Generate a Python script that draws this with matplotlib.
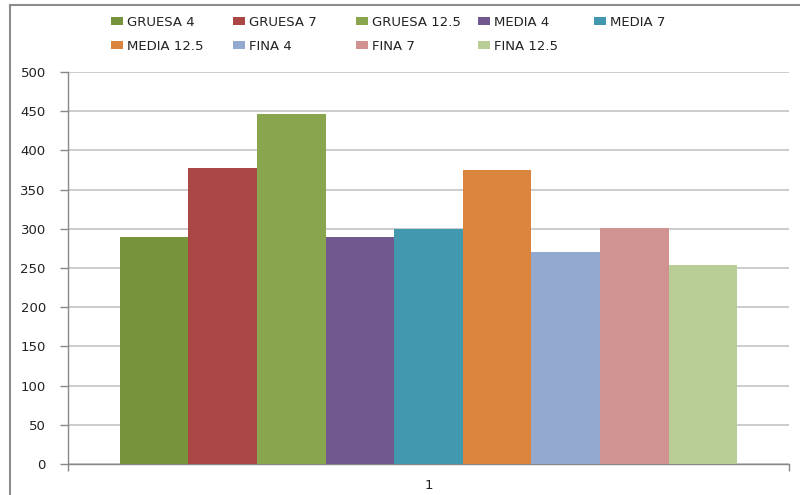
import matplotlib
matplotlib.use("Agg")
import matplotlib.pyplot as plt
from matplotlib.patches import Patch
from matplotlib.lines import Line2D

# Series (one category, "1")
series = ["GRUESA 4", "GRUESA 7", "GRUESA 12.5", "MEDIA 4", "MEDIA 7",
          "MEDIA 12.5", "FINA 4", "FINA 7", "FINA 12.5"]
values = [289, 377, 447, 290, 300, 375, 271, 301, 254]
colors = ["#77933C", "#AA4643", "#89A54E", "#71588F", "#4198AF",
          "#DB843D", "#93A9CF", "#D19392", "#B9CD96"]
category = ["1"]
yticks = [0, 50, 100, 150, 200, 250, 300, 350, 400, 450, 500]

W, H, DPI = 800, 495, 100
fig = plt.figure(figsize=(W / DPI, H / DPI), dpi=DPI)
plt.rcParams["font.family"] = ["DejaVu Sans"]

ax = fig.add_axes([68 / W, 1 - 464 / H, (789 - 68) / W, (464 - 72) / H])

group = 0.856
bw = group / len(series)
n = len(series)
for i, (name, v, c) in enumerate(zip(series, values, colors)):
    x = (i - (n - 1) / 2) * bw
    ax.bar(x, v, width=bw, color=c, edgecolor="none", zorder=3, label=name)

ax.set_xlim(-0.5, 0.5)
ax.set_ylim(0, 500)
ax.set_yticks(yticks)
ax.set_yticklabels([str(t) for t in yticks])
ax.yaxis.grid(True, color="#C8C8C8", linewidth=1.3, zorder=0)
ax.set_axisbelow(True)

ax.set_xticks([0])
ax.set_xticklabels(category)
ax.set_xticks([-0.5, 0.5], minor=True)
ax.tick_params(axis="x", which="major", length=0, pad=11, labelsize=9.5,
               labelcolor="#222222")
ax.tick_params(axis="x", which="minor", length=5, color="#888888", width=1)
ax.tick_params(axis="y", length=6, color="#888888", width=1, pad=10,
               labelsize=9.5, labelcolor="#222222")

for side in ("top", "right"):
    ax.spines[side].set_visible(False)
for side in ("left", "bottom"):
    ax.spines[side].set_color("#888888")
    ax.spines[side].set_linewidth(1)

# Legend entries in an evenly spaced grid (row-major)
legend_x = [111, 233, 356, 478, 594]
legend_y = [22, 46]
for i, (name, c) in enumerate(zip(series, colors)):
    row, col = divmod(i, 5)
    fig.legend(handles=[Patch(facecolor=c, edgecolor="none")], labels=[name],
               loc="center left",
               bbox_to_anchor=(legend_x[col] / W, 1 - legend_y[row] / H),
               frameon=False, borderpad=0, borderaxespad=0,
               handlelength=0.9, handleheight=0.55, handletextpad=0.35,
               fontsize=9.5, labelcolor="#222222")

# Chart-area border
fig.add_artist(Line2D([9.5 / W, 9.5 / W], [1 - 4.5 / H, 0], color="#8C8C8C",
                      linewidth=1.5, transform=fig.transFigure))
fig.add_artist(Line2D([9.5 / W, 1], [1 - 4.5 / H, 1 - 4.5 / H],
                      color="#8C8C8C", linewidth=1.5,
                      transform=fig.transFigure))

fig.savefig("out.png", dpi=DPI)
